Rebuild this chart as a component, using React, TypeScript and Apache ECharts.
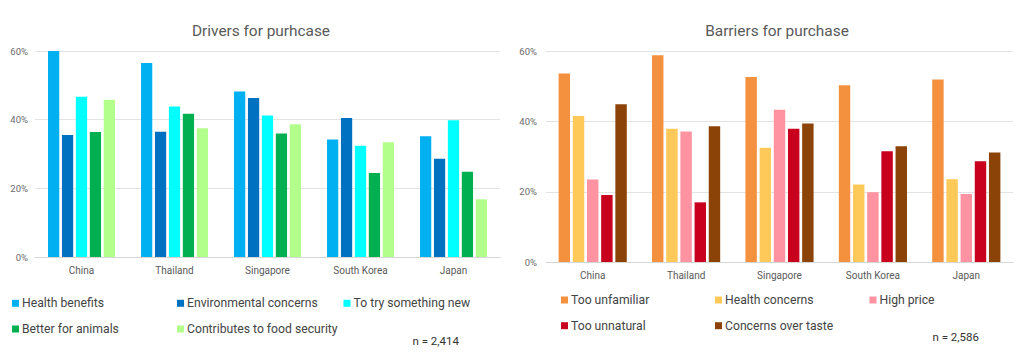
import React, { useEffect, useRef } from "react";
import * as echarts from "echarts";

const countries = ["China", "Thailand", "Singapore", "South Korea", "Japan"];
const yTicks = [0, 20, 40, 60];

const driverNames = [
  "Health benefits",
  "Environmental concerns",
  "To try something new",
  "Better for animals",
  "Contributes to food security",
];
const healthBenefits = [60, 56.5, 48.2, 34.2, 35.2];
const environmentalConcerns = [35.5, 36.5, 46.3, 40.5, 28.6];
const tryNew = [46.7, 43.8, 41.2, 32.4, 39.8];
const betterForAnimals = [36.4, 41.7, 36.0, 24.5, 24.8];
const foodSecurity = [45.8, 37.5, 38.7, 33.4, 16.8];

const barrierNames = [
  "Too unfamiliar",
  "Health concerns",
  "High price",
  "Too unnatural",
  "Concerns over taste",
];
const tooUnfamiliar = [53.7, 58.9, 52.7, 50.4, 52.0];
const healthConcerns = [41.6, 38.0, 32.6, 22.1, 23.6];
const highPrice = [23.5, 37.2, 43.4, 19.9, 19.4];
const tooUnnatural = [19.1, 17.0, 38.0, 31.6, 28.7];
const tasteConcerns = [45.0, 38.7, 39.5, 33.0, 31.2];

const driverValues = [healthBenefits, environmentalConcerns, tryNew, betterForAnimals, foodSecurity];
const barrierValues = [tooUnfamiliar, healthConcerns, highPrice, tooUnnatural, tasteConcerns];

const driverColors = ["#00b0f0", "#0070c0", "#00ffff", "#00b050", "#b2ff8c"];
const barrierColors = ["#f4913f", "#ffc95a", "#ff93a2", "#c8001e", "#8b4308"];

const FONT = "Roboto, 'Noto Sans', sans-serif";

export default function App() {
  const ref = useRef<HTMLDivElement>(null);

  useEffect(() => {
    if (!ref.current) return;
    const chart = echarts.init(ref.current, null, { renderer: "svg" });

    const makeX = (gridIndex: number) => ({
      type: "category",
      gridIndex,
      data: countries,
      axisTick: { show: false },
      axisLine: { lineStyle: { color: "#d6d6d6" } },
      axisLabel: { color: "#5a5a5a", fontSize: 10, fontFamily: FONT, margin: 8 },
    });
    const makeY = (gridIndex: number, margin: number) => ({
      type: "value",
      gridIndex,
      min: yTicks[0],
      max: yTicks[yTicks.length - 1],
      interval: 20,
      axisLabel: { formatter: "{value}%", color: "#6b6b6b", fontSize: 9.5, fontFamily: FONT, margin },
      axisLine: { show: false },
      axisTick: { show: false },
      splitLine: { lineStyle: { color: "#e3e3e3" } },
    });

    const series: any[] = [];
    driverNames.forEach((n, i) => {
      series.push({
        name: n,
        type: "bar",
        xAxisIndex: 0,
        yAxisIndex: 0,
        data: driverValues[i],
        itemStyle: { color: driverColors[i] },
        barGap: "24%",
        barCategoryGap: "28%",
      });
    });
    barrierNames.forEach((n, i) => {
      series.push({
        name: n,
        type: "bar",
        xAxisIndex: 1,
        yAxisIndex: 1,
        data: barrierValues[i],
        itemStyle: { color: barrierColors[i] },
        barGap: "24%",
        barCategoryGap: "27%",
      });
    });

    const legendText = { color: "#444", fontSize: 12.2, fontFamily: FONT, lineHeight: 14, padding: [0, 0, 0, -2] };
    const makeLegend = (data: string[], left: number, top: number) => ({
      data,
      left,
      top,
      orient: "vertical",
      icon: "rect",
      itemWidth: 7,
      itemHeight: 7,
      itemGap: 11.7,
      padding: 0,
      selectedMode: false,
      textStyle: legendText,
    });

    chart.setOption({
      animation: false,
      title: [
        {
          text: "Drivers for purhcase",
          left: 256,
          top: 18,
          textAlign: "center",
          textStyle: { color: "#595959", fontSize: 15.4, fontWeight: "normal", fontFamily: FONT },
        },
        {
          text: "Barriers for purchase",
          left: 772,
          top: 18,
          textAlign: "center",
          textStyle: { color: "#595959", fontSize: 15.4, fontWeight: "normal", fontFamily: FONT },
        },
      ],
      grid: [
        { left: 35, right: 524, top: 51, bottom: 96 },
        { left: 546, right: 11, top: 51.5, bottom: 91 },
      ],
      xAxis: [makeX(0), makeX(1)],
      yAxis: [makeY(0, 7), makeY(1, 9)],
      legend: [
        makeLegend([driverNames[0], driverNames[3]], 12, 296.3),
        makeLegend([driverNames[1], driverNames[4]], 177, 296.3),
        makeLegend([driverNames[2]], 343.5, 296.3),
        makeLegend([barrierNames[0], barrierNames[3]], 561, 293),
        makeLegend([barrierNames[1], barrierNames[4]], 715, 293),
        makeLegend([barrierNames[2]], 869.5, 293),
      ],
      graphic: [
        {
          type: "text",
          left: 412.5,
          top: 334.5,
          style: { text: "n = 2,414", fill: "#333", fontSize: 11.5, fontFamily: FONT },
        },
        {
          type: "text",
          left: 932.5,
          top: 330.5,
          style: { text: "n = 2,586", fill: "#333", fontSize: 11.5, fontFamily: FONT },
        },
      ],
      series,
    });

    return () => chart.dispose();
  }, []);

  return (
    <div
      ref={ref}
      style={{ position: "absolute", left: 0, top: 0, width: 1024, height: 353, background: "#fff" }}
    />
  );
}
